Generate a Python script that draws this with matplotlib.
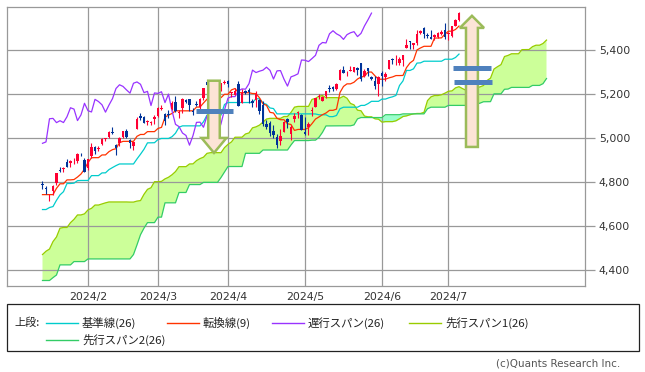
import matplotlib
matplotlib.use('Agg')
import matplotlib.pyplot as plt
import matplotlib.patches as mpatches
from matplotlib.lines import Line2D
from matplotlib.ticker import FuncFormatter
import numpy as np
import pandas as pd

# trading days shown (US market, Jan 12 - Jul 5 2024)
holidays = ['2024-01-15', '2024-02-19', '2024-03-29', '2024-05-27', '2024-06-19', '2024-07-04']

opens = [4791.2, 4772.4, 4739.1, 4760.1, 4796.3, 4853.4, 4856.8, 4888.6, 4886.7, 4888.9, 4892.9, 4925.9, 4899.2,
         4862.0, 4916.1, 4957.2, 4950.2, 4973.1, 4995.2, 5004.2, 5026.8, 4967.9, 4976.4, 5003.1, 5031.1, 4989.3,
         4963.0, 5038.8, 5100.9, 5093.0, 5074.6, 5067.2, 5085.4,
         5098.5, 5131.0, 5110.5, 5108.0, 5132.4, 5164.5, 5112.0, 5134.3, 5173.5, 5175.1, 5123.3, 5154.8, 5139.1,
         5181.7, 5253.4, 5242.5, 5219.5, 5228.9, 5226.3, 5248.0,
         5258.0, 5204.3, 5194.4, 5244.1, 5158.9, 5211.4, 5217.0, 5167.9, 5173.0, 5171.5, 5149.7, 5064.6, 5069.0,
         5031.5, 5005.4, 4987.3, 5028.9, 5084.7, 5019.9, 5084.6, 5114.1, 5103.8,
         5029.0, 5049.3, 5122.8, 5142.4, 5187.2, 5169.0, 5189.0, 5225.5, 5233.1, 5221.1, 5263.3, 5310.1, 5303.1,
         5305.4, 5298.7, 5319.3, 5340.3, 5281.4, 5315.9, 5278.7, 5259.8, 5243.2,
         5297.2, 5278.2, 5314.5, 5357.8, 5343.8, 5341.2, 5353.0, 5409.1, 5441.9, 5422.0, 5431.1, 5476.2, 5500.0,
         5466.8, 5459.6, 5460.7, 5460.7, 5473.6, 5488.5,
         5471.1, 5461.8, 5507.4, 5537.9]
highs = [4802.4, 4782.3, 4744.2, 4785.8, 4842.1, 4868.4, 4866.5, 4903.7, 4898.2, 4906.7, 4929.3, 4931.1, 4906.8,
         4906.2, 4975.3, 4963.4, 4964.9, 4999.9, 5000.4, 5030.1, 5048.4, 4971.3, 5002.5, 5032.7, 5038.7, 4993.7,
         4983.2, 5094.4, 5111.1, 5097.7, 5080.7, 5077.4, 5105.0,
         5140.3, 5149.7, 5114.5, 5128.0, 5165.6, 5189.3, 5124.7, 5179.9, 5179.1, 5176.9, 5136.9, 5170.0, 5180.3,
         5226.2, 5261.1, 5246.1, 5229.1, 5235.2, 5249.3, 5264.9,
         5264.0, 5208.3, 5228.8, 5256.6, 5222.2, 5219.6, 5224.8, 5178.4, 5211.8, 5175.0, 5168.4, 5079.8, 5078.0,
         5056.7, 5019.0, 5038.8, 5076.1, 5089.5, 5057.8, 5114.6, 5123.5, 5110.8,
         5096.1, 5073.2, 5139.1, 5181.0, 5200.2, 5192.0, 5215.3, 5239.7, 5237.3, 5250.4, 5311.8, 5325.5, 5305.4,
         5325.3, 5324.3, 5323.2, 5341.9, 5311.6, 5315.9, 5282.3, 5280.3, 5280.3,
         5302.1, 5298.8, 5354.2, 5362.4, 5375.1, 5365.8, 5376.0, 5447.3, 5441.9, 5432.4, 5488.5, 5490.4, 5505.5,
         5478.3, 5490.7, 5472.9, 5483.1, 5490.8, 5523.6,
         5479.6, 5509.7, 5539.3, 5570.3]
lows = [4768.0, 4747.1, 4714.8, 4740.6, 4785.9, 4844.1, 4844.4, 4865.9, 4869.3, 4881.5, 4887.4, 4916.5, 4845.2,
        4853.5, 4908.0, 4928.0, 4939.0, 4969.1, 4987.1, 5000.3, 5016.8, 4920.3, 4963.0, 4999.4, 4999.5, 4955.0,
        4946.0, 5038.8, 5081.5, 5068.9, 5057.3, 5058.4, 5061.9,
        5094.2, 5127.2, 5056.8, 5092.2, 5128.2, 5117.5, 5091.1, 5114.5, 5160.0, 5123.3, 5104.4, 5145.5, 5131.6,
        5171.6, 5240.7, 5229.9, 5216.1, 5203.4, 5213.9, 5246.5,
        5229.2, 5184.1, 5194.4, 5146.1, 5157.2, 5197.4, 5160.8, 5138.7, 5138.8, 5107.9, 5052.5, 5039.8, 5007.3,
        5001.9, 4953.6, 4969.4, 5028.0, 5047.0, 4990.6, 5073.1, 5088.7, 5035.3,
        5013.5, 5011.1, 5101.2, 5142.4, 5179.0, 5165.9, 5180.4, 5209.7, 5211.2, 5218.0, 5263.3, 5296.2, 5283.6,
        5302.4, 5297.9, 5286.0, 5256.9, 5278.4, 5280.9, 5262.7, 5222.1, 5191.7,
        5234.3, 5257.6, 5311.3, 5335.4, 5331.3, 5331.5, 5327.3, 5409.1, 5402.5, 5403.8, 5420.4, 5471.3, 5455.6,
        5452.0, 5447.6, 5446.6, 5451.9, 5467.5, 5451.1,
        5446.5, 5458.4, 5507.4, 5531.6]
closes = [4783.8, 4766.0, 4739.2, 4780.9, 4839.8, 4850.4, 4864.6, 4868.6, 4894.2, 4891.0, 4927.9, 4925.0, 4845.7,
          4906.2, 4958.6, 4942.8, 4954.2, 4995.1, 4997.9, 5026.6, 5021.8, 4953.2, 5000.6, 5029.7, 5005.6, 4975.5,
          4981.8, 5087.0, 5088.8, 5069.5, 5078.2, 5069.8, 5096.3,
          5137.1, 5131.0, 5078.7, 5104.8, 5157.4, 5123.7, 5117.9, 5175.3, 5165.3, 5150.5, 5117.1, 5149.4, 5178.5,
          5224.6, 5241.5, 5234.2, 5218.2, 5203.6, 5248.5, 5254.4,
          5243.8, 5205.8, 5211.5, 5147.2, 5204.3, 5202.4, 5209.9, 5160.6, 5199.1, 5123.4, 5061.8, 5051.4, 5022.2,
          5011.1, 4967.2, 5010.6, 5070.6, 5071.6, 5048.4, 5100.0, 5116.2, 5035.7,
          5018.4, 5064.2, 5127.8, 5180.7, 5187.7, 5187.7, 5214.1, 5222.7, 5221.4, 5246.7, 5308.2, 5297.1, 5303.3,
          5308.1, 5321.4, 5307.0, 5267.8, 5304.7, 5306.0, 5267.0, 5235.5, 5277.5,
          5283.4, 5291.3, 5354.0, 5353.0, 5347.0, 5360.8, 5375.3, 5421.0, 5433.7, 5431.6, 5473.2, 5487.0, 5473.2,
          5464.6, 5447.9, 5469.3, 5477.9, 5482.9, 5460.5,
          5475.1, 5509.0, 5537.0, 5567.2]

# 転換線(9)
tenkan = [4742.3, 4742.3, 4742.3, 4742.3, 4771.0, 4791.6, 4791.6, 4809.3, 4809.3, 4810.8, 4822.1, 4835.9, 4858.5,
          4887.6, 4909.9, 4910.3, 4910.3, 4922.6, 4922.8, 4937.7, 4946.8, 4951.0, 4978.2, 4984.4, 4984.4, 4984.4,
          4984.4, 5007.4, 5015.7, 5015.7, 5028.6, 5028.6, 5028.6,
          5043.2, 5047.9, 5094.3, 5103.3, 5111.2, 5123.1, 5123.1, 5123.1, 5123.1, 5123.1, 5123.1, 5140.2, 5140.2,
          5158.7, 5176.1, 5182.8, 5182.8, 5182.8, 5182.8, 5198.3,
          5198.3, 5218.3, 5224.5, 5205.5, 5205.5, 5205.5, 5205.5, 5201.8, 5201.4, 5182.3, 5154.6, 5148.2, 5116.1,
          5113.4, 5089.2, 5082.7, 5082.7, 5064.3, 5061.0, 5034.1, 5038.6, 5038.6,
          5038.6, 5046.5, 5064.9, 5085.8, 5095.4, 5105.7, 5113.2, 5125.4, 5125.4, 5130.8, 5206.5, 5234.0, 5245.7,
          5245.7, 5253.0, 5267.6, 5276.6, 5280.0, 5299.4, 5299.4, 5282.0, 5266.8,
          5266.8, 5266.8, 5273.0, 5277.1, 5283.4, 5283.4, 5283.9, 5319.5, 5340.8, 5352.5, 5399.9, 5408.9, 5416.4,
          5416.4, 5416.4, 5454.0, 5454.0, 5454.7, 5472.0,
          5485.1, 5485.1, 5492.9, 5508.4]
# 基準線(26)
kijun = [4674.5, 4674.5, 4683.7, 4688.0, 4716.5, 4741.0, 4755.7, 4792.9, 4792.9, 4794.4, 4805.7, 4806.6, 4806.6,
         4806.6, 4828.7, 4828.7, 4828.7, 4841.0, 4841.3, 4856.1, 4865.3, 4874.1, 4881.6, 4881.6, 4881.6, 4881.6,
         4881.6, 4904.6, 4925.9, 4948.5, 4977.6, 4977.8, 4978.2,
         4992.8, 4997.5, 4997.5, 4997.5, 5005.4, 5021.4, 5048.7, 5054.8, 5054.8, 5054.8, 5054.8, 5054.8, 5054.8,
         5073.3, 5103.6, 5103.6, 5103.6, 5103.6, 5103.6, 5151.9,
         5160.9, 5160.9, 5160.9, 5160.9, 5160.9, 5160.9, 5160.9, 5160.9, 5178.0, 5178.0, 5158.7, 5152.4, 5136.1,
         5133.4, 5109.3, 5109.3, 5109.3, 5109.3, 5109.3, 5109.3, 5109.3, 5109.3,
         5109.3, 5109.3, 5109.3, 5108.8, 5105.1, 5105.1, 5105.1, 5096.7, 5096.7, 5102.0, 5132.7, 5139.6, 5139.6,
         5139.6, 5139.6, 5139.6, 5147.8, 5147.8, 5155.7, 5166.3, 5166.3, 5166.3,
         5176.5, 5176.5, 5182.7, 5186.8, 5193.1, 5238.2, 5259.2, 5306.6, 5306.6, 5313.9, 5340.1, 5341.1, 5348.6,
         5348.6, 5348.6, 5348.6, 5348.6, 5348.6, 5357.7,
         5357.7, 5357.7, 5365.5, 5381.0]
# 先行スパン1(26)
span1 = [4470, 4485, 4495, 4529, 4550, 4590, 4593, 4593, 4615, 4630, 4650, 4650, 4655, 4673, 4680, 4695, 4695,
         4700, 4705, 4709, 4709, 4709, 4709, 4709, 4709,
         4708.4, 4708.4, 4713.0, 4715.2, 4743.8, 4766.3, 4773.7, 4801.1, 4801.1, 4802.6,
         4813.9, 4821.3, 4832.6, 4847.1, 4869.3, 4869.5, 4869.5, 4881.8, 4882.1, 4896.9,
         4906.1, 4912.6, 4929.9, 4933.0, 4933.0, 4933.0, 4933.0, 4956.0, 4970.8, 4982.1,
         5003.1, 5003.2, 5003.4, 5018.0, 5022.7, 5045.9, 5050.4, 5058.3, 5072.3, 5085.9,
         5089.0, 5089.0, 5089.0, 5089.0, 5097.5, 5097.5, 5116.0, 5139.9, 5143.2, 5143.2,
         5143.2, 5143.2, 5175.1, 5179.6, 5189.6, 5192.7, 5183.2, 5183.2, 5183.2, 5183.2,
         5181.4, 5189.7, 5180.2, 5156.7, 5150.3, 5126.1, 5123.4, 5099.3, 5096.0, 5096.0,
         5086.8, 5085.2, 5071.7, 5074.0, 5074.0, 5074.0, 5077.9, 5087.1, 5097.3, 5100.3,
         5105.4, 5109.2, 5111.1, 5111.1, 5116.4, 5169.6, 5186.8, 5192.7, 5192.7, 5196.3,
         5203.6, 5212.2, 5213.9, 5227.6, 5232.9, 5224.2, 5216.6, 5221.7, 5221.7, 5227.9,
         5232.0, 5238.3, 5260.8, 5271.6, 5313.1, 5323.7, 5333.2, 5370.0, 5375.0, 5382.5,
         5382.5, 5382.5, 5401.3, 5401.3, 5401.7, 5414.9, 5421.4, 5421.4, 5429.2, 5444.7]
# 先行スパン2(26)
span2 = [4352, 4352, 4352, 4365, 4377, 4423, 4423, 4423, 4423, 4438,
         4438, 4438, 4438, 4450, 4450, 4450, 4450, 4450, 4450, 4450,
         4450, 4450, 4450, 4450, 4450, 4450, 4470, 4514, 4560, 4590,
         4615, 4615, 4615, 4640, 4640, 4705, 4705, 4705, 4705, 4752,
         4752, 4752, 4788, 4788, 4788, 4788, 4798, 4798, 4798, 4798,
         4798, 4820, 4845, 4870, 4870, 4870, 4870, 4870, 4930, 4930,
         4930, 4930, 4930, 4945, 4945, 4945, 4945, 4945, 4945, 4945,
         4945, 4968, 4988, 4988, 4988, 4988, 4988.0, 4989.9, 4989.9, 5002.8,
         5025.4, 5054.5, 5054.7, 5055.1, 5055.1, 5055.1, 5055.1, 5055.1, 5055.1, 5059.2,
         5086.5, 5092.6, 5092.6, 5092.6, 5092.6, 5092.6, 5092.6, 5092.6, 5105.5, 5105.5,
         5105.5, 5105.5, 5105.5, 5109.3, 5109.3, 5109.3, 5109.3, 5109.3, 5109.3, 5109.3,
         5132.7, 5139.6, 5139.6, 5139.6, 5139.6, 5139.6, 5147.8, 5147.8, 5147.8, 5147.8,
         5147.8, 5147.8, 5147.8, 5147.8, 5153.9, 5158.0, 5164.4, 5164.4, 5164.8, 5200.5,
         5200.5, 5200.5, 5221.1, 5222.0, 5229.6, 5229.6, 5229.6, 5229.6, 5229.6, 5229.6,
         5238.6, 5238.6, 5238.6, 5246.5, 5269.9]

shift = 25
yticks = [4400, 4600, 4800, 5000, 5200, 5400]

legend_items = [('基準線(26)', '#00cccc'), ('転換線(9)', '#ff3300'), ('遅行スパン(26)', '#9933ff'),
                ('先行スパン1(26)', '#99cc00'), ('先行スパン2(26)', '#33cc66')]

# colours
c_up, c_down = '#ff0033', '#003399'
grid_c = '#999999'

days = pd.bdate_range('2024-01-12', '2024-07-05')
days = days[~days.isin(pd.to_datetime(holidays))]
month_idx = [i for i in range(1, len(days)) if days[i].month != days[i - 1].month]
month_lab = ['%d/%d' % (days[i].year, days[i].month) for i in month_idx]

o = np.array(opens); h = np.array(highs); l = np.array(lows); c = np.array(closes)
x = np.arange(len(c))
xs = np.arange(len(span1))

fig = plt.figure(figsize=(6.45, 3.72), dpi=100)
ax = fig.add_axes([7 / 645, 1 - 286 / 372, 578 / 645, 279 / 372])

# cloud
s1 = np.array(span1); s2 = np.array(span2)
ax.fill_between(xs, s1, s2, where=s1 >= s2, interpolate=True, color='#ccff99', lw=0, zorder=1)
ax.fill_between(xs, s1, s2, where=s1 < s2, interpolate=True, color='#99ffcc', lw=0, zorder=1)
ax.plot(xs, s1, color='#99cc00', lw=0.9, zorder=2)
ax.plot(xs, s2, color='#33cc66', lw=0.9, zorder=2)

# lines
ax.plot(x, kijun, color='#00cccc', lw=0.9, zorder=2.2)
ax.plot(x, tenkan, color='#ff3300', lw=0.9, zorder=2.3)
ax.plot(x[:-shift], c[shift:], color='#9933ff', lw=0.9, zorder=2.4)

# candles
cols = np.where(c >= o, c_up, c_down)
ax.vlines(x, l, h, colors=cols, lw=0.8, zorder=3)
body = np.maximum(np.abs(c - o), 3)
ax.bar(x, body, bottom=np.minimum(o, c), width=0.8, color=cols, lw=0, zorder=3.5)

# arrows and marks
arrow_kw = dict(facecolor='#fce4d6', edgecolor='#9bbb59', lw=1.8, length_includes_head=True, zorder=5)
ax.add_patch(mpatches.FancyArrow(49.0, 5260, 0, -328, width=3.3, head_width=7.1, head_length=68, **arrow_kw))
ax.add_patch(mpatches.FancyArrow(122.7, 4959, 0, 596, width=3.4, head_width=6.9, head_length=55, **arrow_kw))
bar_kw = dict(color='#4f81bd', lw=3.6, solid_capstyle='butt', zorder=6)
ax.plot([43.9, 54.4], [5123, 5123], **bar_kw)
ax.plot([117.3, 128.1], [5317, 5317], **bar_kw)
ax.plot([117.6, 128.4], [5253, 5253], **bar_kw)

ax.set_xlim(-10.14, 155)
ax.set_ylim(4327, 5595)
ax.set_axisbelow('line')
ax.grid(True, color=grid_c, lw=0.9)
ax.set_xticks(month_idx)
ax.set_xticklabels(month_lab)
ax.set_yticks(yticks)
ax.yaxis.set_major_formatter(FuncFormatter(lambda v, p: '{:,.0f}'.format(v)))
ax.yaxis.tick_right()
ax.tick_params(axis='y', length=7, width=0.9, color=grid_c, labelsize=7.8, pad=3, labelcolor='#333333')
ax.tick_params(axis='x', length=0, labelsize=7.8, pad=4, labelcolor='#333333')
for s in ax.spines.values():
    s.set_color(grid_c)
    s.set_linewidth(0.9)

# legend box
jp = ['Noto Sans CJK JP', 'DejaVu Sans']
fig.add_artist(mpatches.Rectangle((7 / 645, 1 - 351 / 372), 632 / 645, 47 / 372, transform=fig.transFigure,
                                  fill=False, edgecolor='#222222', lw=0.9))
fig.text(14 / 645, 1 - 323 / 372, '上段:', fontsize=8, family=jp, va='center', color='#222222')
pos = [(46, 323), (167, 323), (272, 323), (409, 323), (46, 340)]
for (lab, col), (px, py) in zip(legend_items, pos):
    fig.add_artist(Line2D([px / 645, (px + 32) / 645], [1 - py / 372] * 2, color=col, lw=1,
                          transform=fig.transFigure))
    fig.text((px + 36) / 645, 1 - py / 372, lab, fontsize=8.2, family=jp, va='center', color='#222222')

fig.text(620 / 645, 1 - 364 / 372, '(c)Quants Research Inc.', ha='right', va='center', fontsize=7.5,
         color='#555555')

fig.savefig('out.png', dpi=100)
